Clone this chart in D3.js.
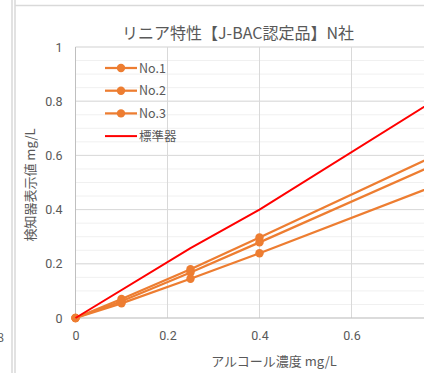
<!DOCTYPE html>
<html><head><meta charset="utf-8">
<script src="https://cdn.jsdelivr.net/npm/d3@7"></script>
<style>body{margin:0;background:#fff;overflow:hidden}svg{display:block;font-family:"Noto Sans CJK JP","Noto Sans",sans-serif}</style>
</head><body><svg id="c" width="424" height="373"></svg>
<script>
const xValues = [0, 0.1, 0.25, 0.4, 0.8];
const no1 = [0, 0.07, 0.18, 0.297, 0.614];
const no2 = [0, 0.062, 0.168, 0.279, 0.58];
const no3 = [0, 0.054, 0.145, 0.239, 0.50];
const stdX = [0, 0.25, 0.4, 0.8];
const stdY = [0, 0.258, 0.40, 0.824];
const seriesNames = ["No.1", "No.2", "No.3", "標準器"];
const yTicks = [0, 0.2, 0.4, 0.6, 0.8, 1];
const xTicks = [0, 0.2, 0.4, 0.6];
const xGrid = [0.2, 0.4, 0.6, 0.8, 1];
const yMinor = d3.range(0, 1.0001, 0.05);

const svg = d3.select("#c");
const grey = "#595959";
const x = d3.scaleLinear().domain([0, 1]).range([75.5, 535.5]);
const y = d3.scaleLinear().domain([0, 1]).range([318, 47]);

// frame lines
svg.append("line").attr("x1",12).attr("x2",12).attr("y1",0).attr("y2",373).attr("stroke","#d9d9d9").attr("stroke-width",1.5);
svg.append("line").attr("x1",15).attr("x2",15).attr("y1",0).attr("y2",373).attr("stroke","#d9d9d9").attr("stroke-width",1.5);
svg.append("line").attr("x1",15).attr("x2",424).attr("y1",5.5).attr("y2",5.5).attr("stroke","#d9d9d9").attr("stroke-width",1.5);
svg.append("text").attr("x",4).attr("y",342).attr("text-anchor","end").attr("fill",grey).attr("font-size",12).text("8");

// minor grid
svg.append("g").selectAll("line").data(yMinor).join("line")
  .attr("x1", x(0)).attr("x2", x(1)).attr("y1", d => y(d)).attr("y2", d => y(d))
  .attr("stroke", "#f0f0f0").attr("stroke-width", 1);
// major grid
svg.append("g").selectAll("line").data(yTicks.filter(d=>d>0)).join("line")
  .attr("x1", x(0)).attr("x2", x(1)).attr("y1", d => y(d)).attr("y2", d => y(d))
  .attr("stroke", "#d9d9d9").attr("stroke-width", 1);
svg.append("g").selectAll("line").data(xGrid).join("line")
  .attr("x1", d => x(d)).attr("x2", d => x(d)).attr("y1", y(0)).attr("y2", y(1))
  .attr("stroke", "#d9d9d9").attr("stroke-width", 1);
// axes lines
svg.append("line").attr("x1", x(0)).attr("x2", x(0)).attr("y1", y(0)).attr("y2", y(1)).attr("stroke","#bfbfbf");
svg.append("line").attr("x1", x(0)).attr("x2", x(1)).attr("y1", y(0)).attr("y2", y(0)).attr("stroke","#bfbfbf");

// tick labels via axes
const yAxis = svg.append("g").attr("transform", `translate(${x(0)},0)`)
  .call(d3.axisLeft(y).tickValues(yTicks).tickFormat(d3.format("~g")).tickSize(0).tickPadding(13));
yAxis.select(".domain").remove();
yAxis.selectAll("text").attr("fill", grey).attr("font-size", 12.5).attr("font-family", "Roboto, 'Noto Sans', sans-serif");
const xAxis = svg.append("g").attr("transform", `translate(0,${y(0)})`)
  .call(d3.axisBottom(x).tickValues(xTicks).tickFormat(d3.format("~g")).tickSize(0).tickPadding(13));
xAxis.select(".domain").remove();
xAxis.selectAll("text").attr("fill", grey).attr("font-size", 12.5).attr("font-family", "Roboto, 'Noto Sans', sans-serif");

// series
const orange = "#ED7D31";
const line = d3.line().x(d => x(d[0])).y(d => y(d[1]));
[no1, no2, no3].forEach(s => {
  const pts = xValues.map((v, i) => [v, s[i]]);
  svg.append("path").attr("d", line(pts)).attr("fill","none").attr("stroke",orange).attr("stroke-width",2.25);
  svg.append("g").selectAll("circle").data(pts).join("circle")
    .attr("cx", d => x(d[0])).attr("cy", d => y(d[1])).attr("r", 4.2).attr("fill", orange);
});
svg.append("path").attr("d", line(stdX.map((v,i)=>[v, stdY[i]]))).attr("fill","none").attr("stroke","#FF0000").attr("stroke-width",2);

// legend
const lg = svg.append("g");
seriesNames.forEach((n, i) => {
  const yy = 68 + i * 22.7;
  const c = i < 3 ? orange : "#FF0000";
  lg.append("line").attr("x1",105).attr("x2",137).attr("y1",yy).attr("y2",yy).attr("stroke",c).attr("stroke-width", i<3?2.25:2);
  if (i < 3) lg.append("circle").attr("cx",121).attr("cy",yy).attr("r",4.2).attr("fill",orange);
  lg.append("text").attr("x",139).attr("y",yy+4.5).attr("fill",grey).attr("font-size",12.5).text(n);
});

// titles
svg.append("text").attr("x",238).attr("y",39).attr("text-anchor","middle").attr("fill",grey).attr("font-size",16).text("リニア特性【J-BAC認定品】N社");
svg.append("text").attr("transform","translate(35,185) rotate(-90)").attr("text-anchor","middle").attr("fill",grey).attr("font-size",13).text("検知器表示値 mg/L");
svg.append("text").attr("x",274).attr("y",366).attr("text-anchor","middle").attr("fill",grey).attr("font-size",13).text("アルコール濃度 mg/L");
</script></body></html>
